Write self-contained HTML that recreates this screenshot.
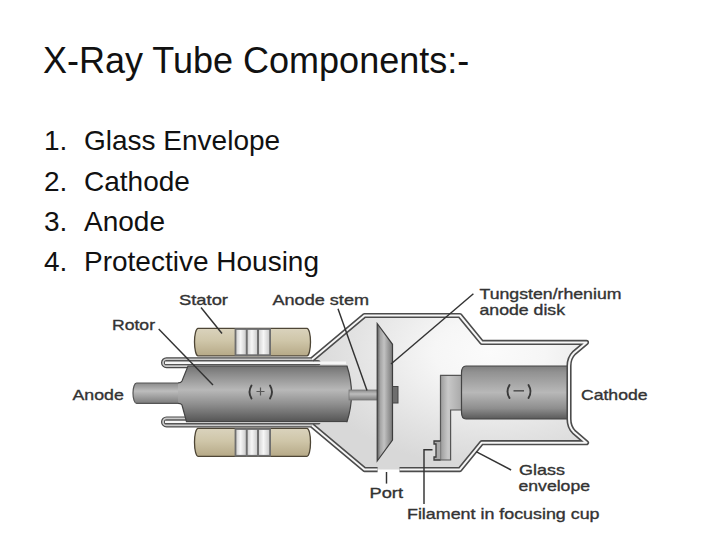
<!DOCTYPE html>
<html><head><meta charset="utf-8">
<style>
html,body{margin:0;padding:0;background:#fff;}
body{width:720px;height:539px;overflow:hidden;position:relative;font-family:"Liberation Sans",sans-serif;color:#111;}
.t{position:absolute;white-space:nowrap;line-height:1;}
#title{left:43px;top:43px;font-size:36px;}
.li{font-size:28px;}
svg{position:absolute;left:0;top:0;}
.lb{font-family:"Liberation Sans",sans-serif;font-size:15px;fill:#333;stroke:#333;stroke-width:0.35;}
</style></head><body>
<div class="t" id="title">X-Ray Tube Components:-</div>
<div class="t li" style="left:44px;top:127px">1.</div><div class="t li" style="left:84px;top:127px">Glass Envelope</div>
<div class="t li" style="left:44px;top:168px">2.</div><div class="t li" style="left:84px;top:168px">Cathode</div>
<div class="t li" style="left:44px;top:208px">3.</div><div class="t li" style="left:84px;top:208px">Anode</div>
<div class="t li" style="left:44px;top:248px">4.</div><div class="t li" style="left:84px;top:248px">Protective Housing</div>
<svg width="720" height="539" viewBox="0 0 720 539">
<defs>
  <linearGradient id="gRot" x1="0" y1="0" x2="0" y2="1">
    <stop offset="0" stop-color="#727272"/>
    <stop offset="0.15" stop-color="#8c8c8c"/>
    <stop offset="0.43" stop-color="#b8b8b8"/>
    <stop offset="0.7" stop-color="#8c8c8c"/>
    <stop offset="1" stop-color="#555"/>
  </linearGradient>
  <linearGradient id="gShaft" x1="0" y1="0" x2="0" y2="1">
    <stop offset="0" stop-color="#8a8a8a"/>
    <stop offset="0.4" stop-color="#bdbdbd"/>
    <stop offset="1" stop-color="#7c7c7c"/>
  </linearGradient>
  <linearGradient id="gStat" x1="0" y1="0" x2="0" y2="1">
    <stop offset="0" stop-color="#dad3bd"/>
    <stop offset="0.45" stop-color="#cfc6a9"/>
    <stop offset="1" stop-color="#b6a987"/>
  </linearGradient>
  <linearGradient id="gBand" x1="0" y1="0" x2="1" y2="0">
    <stop offset="0" stop-color="#cdcdcd"/>
    <stop offset="0.45" stop-color="#f6f6f6"/>
    <stop offset="1" stop-color="#c6c6c6"/>
  </linearGradient>
  <radialGradient id="gEnv" gradientUnits="userSpaceOnUse" cx="0" cy="0" r="1" gradientTransform="translate(490 352) scale(185 115)">
    <stop offset="0" stop-color="#fbfbfb"/>
    <stop offset="0.3" stop-color="#f6f6f6"/>
    <stop offset="0.5" stop-color="#ededed"/>
    <stop offset="0.75" stop-color="#e2e2e2"/>
    <stop offset="1" stop-color="#d8d8d8"/>
  </radialGradient>
  <linearGradient id="gDisk" x1="0" y1="0" x2="1" y2="0">
    <stop offset="0" stop-color="#5a5a5a"/>
    <stop offset="0.2" stop-color="#a4a4a4"/>
    <stop offset="0.45" stop-color="#c2c2c2"/>
    <stop offset="0.75" stop-color="#999"/>
    <stop offset="1" stop-color="#7a7a7a"/>
  </linearGradient>
  <linearGradient id="gCath" x1="0" y1="0" x2="0" y2="1">
    <stop offset="0" stop-color="#7e7e7e"/>
    <stop offset="0.12" stop-color="#929292"/>
    <stop offset="0.5" stop-color="#b8b8b8"/>
    <stop offset="0.8" stop-color="#8e8e8e"/>
    <stop offset="1" stop-color="#5a5a5a"/>
  </linearGradient>
  <linearGradient id="gSup" x1="0" y1="0" x2="1" y2="0">
    <stop offset="0" stop-color="#9c9c9c"/>
    <stop offset="0.35" stop-color="#c8c8c8"/>
    <stop offset="1" stop-color="#a8a8a8"/>
  </linearGradient>
</defs>

<!-- envelope interior -->
<path d="M312,359.5 L364.5,315.5 L459.8,315.5 L481.8,342.4 L586.5,342.4 L569,360 L569,425 L586.5,442.7 L481.8,442.7 L459.8,469.6 L364.5,469.6 L312,425.6 Z" fill="url(#gEnv)"/>

<!-- glass bands (hooks) -->
<clipPath id="cb"><rect x="0" y="300" width="316" height="200"/></clipPath>
<g fill="none" stroke-linecap="round" clip-path="url(#cb)">
  <path d="M166.5,362.7 L330,362.7 M166.5,421.9 L330,421.9" stroke="#4a4a4a" stroke-width="11"/>
  <path d="M166.5,362.7 L330,362.7 M166.5,421.9 L330,421.9" stroke="#cbcbcb" stroke-width="8.6"/>
</g>
<g fill="none" stroke-linecap="round">
  <path d="M166.5,362.7 L318,362.7 M166.5,421.9 L318,421.9" stroke="#555" stroke-width="5.2"/>
</g>
<path d="M165,362.7 L346,362.7 M165,421.9 L346,421.9" fill="none" stroke="#f6f6f6" stroke-width="2.4"/>
<!-- anode shaft -->
<rect x="133" y="383" width="54" height="20.3" rx="3.5" ry="10" fill="url(#gShaft)" stroke="#555" stroke-width="1.2"/>
<!-- rotor -->
<path d="M188,366 L347,366 Q356,393.8 347,421.7 L186.5,421.7 L182,405 Q181,403.3 178,403.3 L178,383 Q181,383 182,381 Z" fill="url(#gRot)"/>
<path d="M178,383 Q181,383 182,381 L188,366 L347,366 Q356,393.8 347,421.7 L186.5,421.7 L182,405 Q181,403.3 178,403.3" fill="none" stroke="#444" stroke-width="1.2"/>
<!-- (+) -->
<g fill="none" stroke="#3a3a3a" stroke-width="1.9" stroke-linecap="round">
  <path d="M251.5,385.5 Q247.5,392 251.5,398.5"/>
  <path d="M270,385.5 Q274,392 270,398.5"/>
</g>
<path d="M256.5,391.5 L264.5,391.5 M260.5,387.5 L260.5,395.5" stroke="#555" stroke-width="1.2"/>

<!-- anode stem -->
<rect x="349" y="390" width="29" height="10" fill="url(#gShaft)" stroke="#777" stroke-width="0.8"/>

<!-- stators -->
<g stroke="#4e4636" stroke-width="1.3">
  <rect x="194.5" y="328.3" width="116" height="27.5" rx="3.5" ry="14" fill="url(#gStat)"/>
  <rect x="194.5" y="428.3" width="116" height="28" rx="3.5" ry="14" fill="url(#gStat)"/>
</g>
<g fill="url(#gBand)" stroke="#6e6e6e" stroke-width="1.8">
  <rect x="235.5" y="329" width="11.3" height="26.2"/>
  <rect x="246.8" y="329" width="11.3" height="26.2"/>
  <rect x="258.1" y="329" width="12" height="26.2"/>
  <rect x="235.5" y="429" width="11.3" height="26.8"/>
  <rect x="246.8" y="429" width="11.3" height="26.8"/>
  <rect x="258.1" y="429" width="12" height="26.8"/>
</g>

<!-- anode disk -->
<path d="M377.2,323.5 L392.5,344.3 L392.5,440 L377.2,461 Z" fill="url(#gDisk)" stroke="#3e3e3e" stroke-width="1.2"/>
<rect x="392.5" y="386.5" width="5.5" height="16.5" fill="#6e6e6e" stroke="#444" stroke-width="1"/>

<!-- cathode support -->
<path d="M440.5,375.3 L462,375.3 L462,410 L450.6,410 L450.6,460 L440.5,460 Z" fill="url(#gSup)" stroke="#555" stroke-width="1.2"/>
<path d="M440.5,441 L434,441 L434,444 L436,444 L436,457 L434,457 L434,460 L440.5,460" fill="#aaa" stroke="#3a3a3a" stroke-width="1.3"/>
<!-- cathode cylinder -->
<path d="M466,366 L568,366 L568,419 L466,419 Q461.5,419 461.5,412 L461.5,373 Q461.5,366 466,366 Z" fill="url(#gCath)" stroke="#444" stroke-width="1.2"/>
<g fill="none" stroke="#3a3a3a" stroke-width="1.9" stroke-linecap="round">
  <path d="M509.5,385 Q505.5,391.5 509.5,398"/>
  <path d="M528.5,385 Q532.5,391.5 528.5,398"/>
</g>
<path d="M513.5,390.8 L524,390.8" stroke="#555" stroke-width="1.6"/>

<!-- glass walls -->
<g fill="none" stroke-linejoin="round">
  <path d="M312,359.5 L364.5,315.5 L459.8,315.5 L481.8,342.4 L586.5,342.4 L574,353 Q569,358 569,366 L569,419 Q569,427 574,432 L586.5,442.7 L481.8,442.7 L459.8,469.6 L399.5,469.6 M377.6,469.6 L364.5,469.6 L312,425.6" stroke="#4c4c4c" stroke-width="5.2"/>
  <path d="M312,359.5 L364.5,315.5 L459.8,315.5 L481.8,342.4 L586.5,342.4 L574,353 Q569,358 569,366 L569,419 Q569,427 574,432 L586.5,442.7 L481.8,442.7 L459.8,469.6 L399.5,469.6 M377.6,469.6 L364.5,469.6 L312,425.6" stroke="#f6f6f6" stroke-width="2"/>
</g>

<!-- leader lines -->
<g stroke="#333" stroke-width="1.45" fill="none">
  <line x1="158.7" y1="329" x2="213" y2="385"/>
  <line x1="201" y1="307.5" x2="222" y2="333.5"/>
  <line x1="338" y1="308.8" x2="367" y2="390.5"/>
  <line x1="473.4" y1="293.8" x2="391" y2="364"/>
  <line x1="386.5" y1="472" x2="386.5" y2="483.6"/>
  <path d="M432.5,449.8 L424,449.8 L424,504"/>
  <line x1="476.1" y1="451.7" x2="511.1" y2="470"/>
</g>

<!-- labels -->
<g class="lb">
<text x="179" y="304.7" textLength="49" lengthAdjust="spacingAndGlyphs">Stator</text>
<text x="272.5" y="304.9" textLength="96.5" lengthAdjust="spacingAndGlyphs">Anode stem</text>
<text x="112" y="329.5" textLength="43" lengthAdjust="spacingAndGlyphs">Rotor</text>
<text x="72.5" y="400.4" textLength="51.3" lengthAdjust="spacingAndGlyphs">Anode</text>
<text x="479.5" y="299.4" textLength="142" lengthAdjust="spacingAndGlyphs">Tungsten/rhenium</text>
<text x="479.5" y="314.9" textLength="85.5" lengthAdjust="spacingAndGlyphs">anode disk</text>
<text x="581" y="399.8" textLength="66.5" lengthAdjust="spacingAndGlyphs">Cathode</text>
<text x="519" y="475.3" textLength="46" lengthAdjust="spacingAndGlyphs">Glass</text>
<text x="518.5" y="490.5" textLength="71.5" lengthAdjust="spacingAndGlyphs">envelope</text>
<text x="369.5" y="498.3" textLength="33.5" lengthAdjust="spacingAndGlyphs">Port</text>
<text x="407" y="518.5" textLength="192.5" lengthAdjust="spacingAndGlyphs">Filament in focusing cup</text>
</g>
</svg>
</body></html>
